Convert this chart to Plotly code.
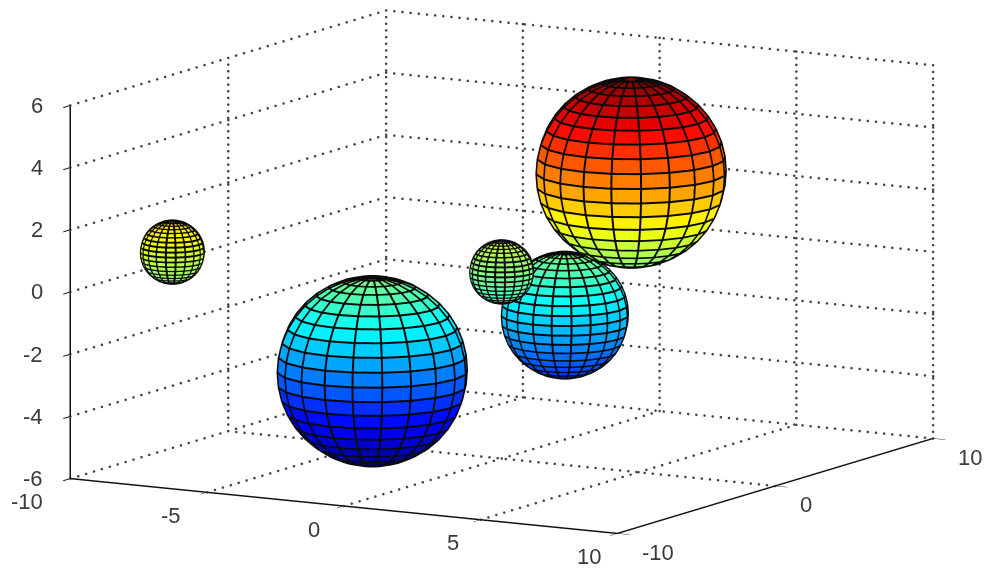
import numpy as np
import plotly.graph_objects as go

# Spheres
CENTER_X = [3, -3, 0, 0, -8]
CENTER_Y = [3, -3, 4, 0, -7]
CENTER_Z = [3, -3, -2, 0, 1]
RADII = [3, 3, 2, 1, 1]
X_TICKS = [-10, -5, 0, 5, 10]
Y_TICKS = [-10, 0, 10]
Z_TICKS = [-6, -4, -2, 0, 2, 4, 6]
X_LABELS = ["-10", "-5", "0", "5", "10"]
Y_LABELS = ["-10", "0", "10"]
Z_LABELS = ["-6", "-4", "-2", "0", "2", "4", "6"]
X_RANGE = [-10, 10]
Y_RANGE = [-10, 10]
Z_RANGE = [-6, 6]
N_FACETS = 20

JET = [[0, "rgb(0,0,140)"], [0.125, "rgb(0,0,255)"], [0.375, "rgb(0,255,255)"],
       [0.625, "rgb(255,255,0)"], [0.875, "rgb(255,0,0)"], [1, "rgb(128,0,0)"]]


def sphere_traces(cx, cy, cz, r, n=N_FACETS):
    theta = np.linspace(-np.pi, np.pi, n + 1)
    phi = np.linspace(-np.pi / 2, np.pi / 2, n + 1)
    T, P = np.meshgrid(theta, phi)
    X = cx + r * np.cos(P) * np.cos(T)
    Y = cy + r * np.cos(P) * np.sin(T)
    Z = cz + r * np.sin(P)
    idx = lambda i, j: i * (n + 1) + j
    I, J, K, C = [], [], [], []
    for i in range(n):
        for j in range(n):
            a, b, c, d = idx(i, j), idx(i, j + 1), idx(i + 1, j + 1), idx(i + 1, j)
            I += [a, a]; J += [b, c]; K += [c, d]
            C += [Z[i, j], Z[i, j]]
    mesh = go.Mesh3d(x=X.ravel(), y=Y.ravel(), z=Z.ravel(), i=I, j=J, k=K,
                     intensity=C, intensitymode="cell", colorscale=JET,
                     cmin=Z_RANGE[0], cmax=Z_RANGE[1], showscale=False,
                     flatshading=True, hoverinfo="skip",
                     lighting=dict(ambient=1, diffuse=0, specular=0, roughness=1, fresnel=0))
    # wire frame, pushed a hair off the surface
    k = 1.006
    Xw, Yw, Zw = cx + (X - cx) * k, cy + (Y - cy) * k, cz + (Z - cz) * k
    lx, ly, lz = [], [], []
    for i in range(n + 1):
        lx += list(Xw[i]) + [None]; ly += list(Yw[i]) + [None]; lz += list(Zw[i]) + [None]
    for j in range(n + 1):
        lx += list(Xw[:, j]) + [None]; ly += list(Yw[:, j]) + [None]; lz += list(Zw[:, j]) + [None]
    wire = go.Scatter3d(x=lx, y=ly, z=lz, mode="lines", hoverinfo="skip",
                        line=dict(color="#0a0a0a", width=4), showlegend=False)
    return [mesh, wire]


def dotted(a, b, count):
    """Row of grid dots between two points on a back plane."""
    t = np.linspace(0, 1, count)
    return go.Scatter3d(x=a[0] + (b[0] - a[0]) * t, y=a[1] + (b[1] - a[1]) * t,
                        z=a[2] + (b[2] - a[2]) * t, mode="markers", hoverinfo="skip",
                        showlegend=False,
                        marker=dict(color="#444444", size=1.5, symbol="circle", line=dict(width=0)))


fig = go.Figure()
x0, x1 = X_RANGE
y0, y1 = Y_RANGE
z0, z1 = Z_RANGE
NX, NY, NZ = 68, 41, 57
for z in Z_TICKS:
    fig.add_trace(dotted((x0, y0, z), (x0, y1, z), NY))
    fig.add_trace(dotted((x0, y1, z), (x1, y1, z), NX))
for y in Y_TICKS:
    if y != y0:  # that edge is the x axis and the z axis
        fig.add_trace(dotted((x1, y, z0), (x0, y, z0), NX))
        fig.add_trace(dotted((x0, y, z0), (x0, y, z1), NZ))
for x in X_TICKS:
    if x != x1:  # that floor edge is the y axis
        fig.add_trace(dotted((x, y0, z0), (x, y1, z0), NY))
    fig.add_trace(dotted((x, y1, z0), (x, y1, z1), NZ))

for cx, cy, cz, r in zip(CENTER_X, CENTER_Y, CENTER_Z, RADII):
    fig.add_traces(sphere_traces(cx, cy, cz, r))

axis = dict(showbackground=False, showgrid=False, zeroline=False, showspikes=False,
            showline=True, linecolor="#111111", linewidth=3, ticks="outside",
            ticklen=14, tickcolor="#111111", tickwidth=2, title=dict(text=""),
            tickmode="array", showticklabels=False)

font = dict(family="Liberation Sans", size=22, color="#3a3a3a")
notes = []
X_SHIFT = [-25, -24, -22, -20, -14]
for v, s, dx in zip(X_TICKS, X_LABELS, X_SHIFT):
    notes.append(dict(x=v, y=y0, z=z0, text=s, showarrow=False, xanchor="right", yanchor="middle",
                      xshift=dx, yshift=-23, font=font))
for v, s in zip(Y_TICKS, Y_LABELS):
    notes.append(dict(x=x1, y=v, z=z0, text=s, showarrow=False, xanchor="left", yanchor="middle",
                      xshift=23, yshift=-19, font=font))
for v, s in zip(Z_TICKS, Z_LABELS):
    notes.append(dict(x=x0, y=y0, z=v, text=s, showarrow=False, xanchor="right", yanchor="middle",
                      xshift=-25, yshift=0, font=font))

el, az = np.radians(10), np.radians(30)
D = 6
S = 2.22
view = np.array([np.cos(el) * np.sin(az), -np.cos(el) * np.cos(az), np.sin(el)])
center = np.array([-0.028, -0.0162, -0.0449])
eye = center + D * view
fig.update_layout(
    width=985, height=569, paper_bgcolor="white", showlegend=False,
    margin=dict(l=0, r=0, t=0, b=0),
    scene=dict(
        xaxis=dict(axis, range=X_RANGE, tickvals=X_TICKS),
        yaxis=dict(axis, range=Y_RANGE, tickvals=Y_TICKS),
        zaxis=dict(axis, range=Z_RANGE, tickvals=Z_TICKS, ticklen=28),
        aspectmode="manual", aspectratio=dict(x=S, y=S, z=0.6 * S),
        annotations=notes,
        camera=dict(projection=dict(type="orthographic"),
                    up=dict(x=0, y=0, z=1),
                    center=dict(x=center[0], y=center[1], z=center[2]),
                    eye=dict(x=eye[0], y=eye[1], z=eye[2])),
    ),
)
fig.write_html("out.html", config=dict(displayModeBar=False),
               post_script="document.body.style.margin='0';")
